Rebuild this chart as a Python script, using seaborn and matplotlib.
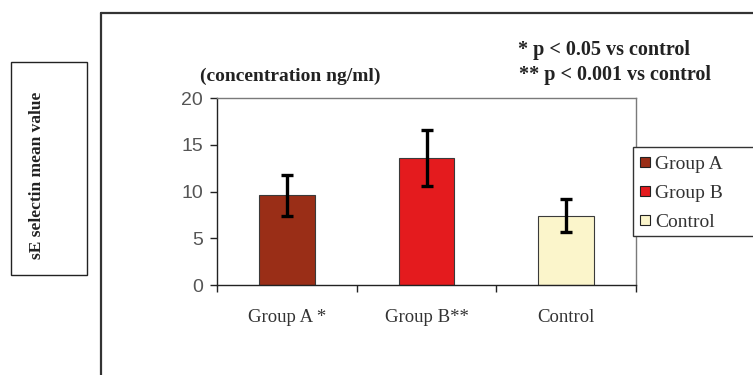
import matplotlib
matplotlib.use("Agg")
import matplotlib.pyplot as plt
import seaborn as sns
import pandas as pd
from matplotlib.patches import Rectangle
from matplotlib.lines import Line2D

# ---- data ----
categories = ["Group A *", "Group B**", "Control"]
legend_labels = ["Group A", "Group B", "Control"]
means = [9.6, 13.6, 7.4]
errors = [2.2, 3.0, 1.75]
colors = ["#9A2E17", "#E41B1E", "#FBF5CB"]
y_ticks = [0, 5, 10, 15, 20]

sns.set_theme(style="white")
plt.rcParams["font.family"] = ["Liberation Serif", "DejaVu Serif"]

fig = plt.figure(figsize=(7.53, 3.75), dpi=100)
ax = fig.add_axes([217/753, 1-285/375, (636-217)/753, (285-98)/375])

df = pd.DataFrame({"cat": categories, "val": means})
sns.barplot(data=df, x="cat", y="val", hue="cat", palette=colors, width=0.4,
            saturation=1, errorbar=None, legend=False, edgecolor="#3a3a3a",
            linewidth=0.8, ax=ax)
ax.errorbar(x=list(range(len(categories))), y=means, yerr=errors, fmt="none",
            ecolor="black", elinewidth=2.4, capsize=4, capthick=2.4, zorder=5)

ax.set_xlim(-0.5, len(categories) - 0.5)
ax.set_ylim(0, 20)
ax.set_yticks(y_ticks)
ax.set_xlabel("")
ax.set_ylabel("")

for s in ["left", "bottom"]:
    ax.spines[s].set_color("#222222")
    ax.spines[s].set_linewidth(1.0)
for s in ["top", "right"]:
    ax.spines[s].set_color("#7a7a7a")
    ax.spines[s].set_linewidth(1.0)

ax.tick_params(axis="y", direction="out", length=5, width=1, color="#222222",
               left=True, pad=5, labelsize=14, labelcolor="#555555")
for lab in ax.get_yticklabels():
    lab.set_family(["Liberation Sans", "DejaVu Sans"])
ax.set_xticks(range(len(categories)))
ax.set_xticklabels(categories)
ax.tick_params(axis="x", which="major", length=0, pad=17, labelsize=13.5,
               labelcolor="#333333")
ax.set_xticks([i - 0.5 for i in range(len(categories) + 1)], minor=True)
ax.tick_params(axis="x", which="minor", direction="out", length=5, width=1,
               color="#222222", bottom=True)

# outer frame (cut off at right/bottom)
fig.add_artist(Line2D([101/753, 101/753], [0, 1-13/375], transform=fig.transFigure,
                      color="#333333", lw=1.6))
fig.add_artist(Line2D([101/753, 1.0], [1-13/375, 1-13/375], transform=fig.transFigure,
                      color="#333333", lw=1.6))

# y label box
fig.add_artist(Rectangle((11/753, 1-275/375), (87-11)/753, (275-62)/375,
                         transform=fig.transFigure, fill=False, ec="#222222", lw=1.0))
fig.text(37/753, 1-175/375, "sE selectin mean value", rotation=90, ha="center",
         va="center", fontsize=12.5, fontweight="bold", color="#222222")

# annotations
fig.text(200/753, 1-76/375, "(concentration ng/ml)", ha="left", va="center",
         fontsize=14, fontweight="bold", color="#222222")
fig.text(518/753, 1-50/375, "* p < 0.05 vs control", ha="left", va="center",
         fontsize=14.5, fontweight="bold", color="#222222")
fig.text(519/753, 1-75/375, "** p < 0.001 vs control", ha="left", va="center",
         fontsize=14.5, fontweight="bold", color="#222222")

# legend
fig.add_artist(Rectangle((633/753, 1-236/375), 0.3, (236-147)/375,
                         transform=fig.transFigure, fill=True, fc="white",
                         ec="#333333", lw=1.0, zorder=1))
handles = [Line2D([], [], marker="s", linestyle="none", markersize=7.5,
                  markerfacecolor=c, markeredgecolor="#222222", markeredgewidth=0.8)
           for c in colors]
leg = fig.legend(handles, legend_labels, loc="upper left",
                 bbox_to_anchor=(636/753, 1-153/375), frameon=False,
                 fontsize=14, handlelength=0.7, handletextpad=0.2,
                 labelspacing=0.6, borderaxespad=0, borderpad=0.1)
for t in leg.get_texts():
    t.set_color("#333333")
leg.set_zorder(2)

fig.savefig("out.png", dpi=100, facecolor="white")
